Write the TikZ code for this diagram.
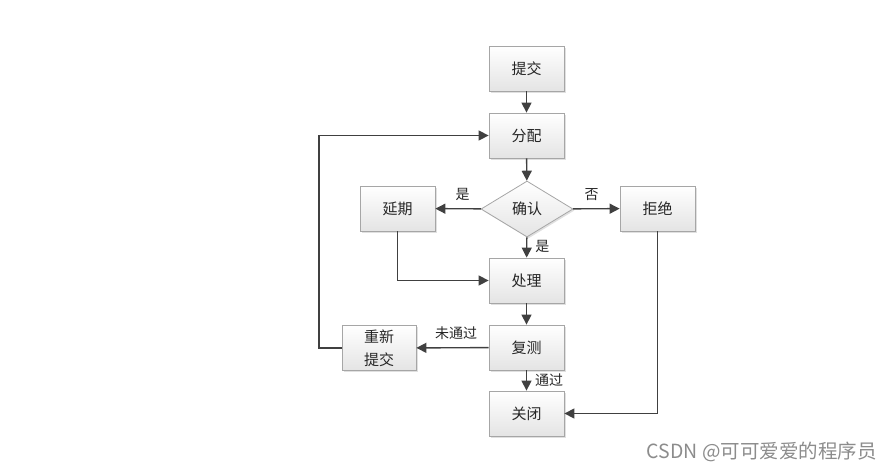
\documentclass[tikz,border=0pt]{standalone}
\usepackage{fontspec}
\newfontfamily\cjk{Noto Sans CJK SC}
\usetikzlibrary{arrows.meta,shapes.geometric,shadows}
\definecolor{linec}{HTML}{404040}
\definecolor{borderc}{HTML}{A6A6A6}
\definecolor{botc}{HTML}{E4E4E4}
\begin{document}
\begin{tikzpicture}[x=1pt,y=-1pt,
  box/.style={draw=borderc,line width=0.8pt,top color=white,bottom color=botc,
    minimum width=75pt,minimum height=45pt,inner sep=0pt,font=\cjk\fontsize{15}{18}\selectfont,
    text=black!85,drop shadow={shadow xshift=1.5pt,shadow yshift=-1.5pt,fill=black,opacity=0.12}},
  dia/.style={box,diamond,aspect=1.64,minimum width=92pt,minimum height=56pt,inner sep=0pt},
  conn/.style={draw=linec,line width=1.4pt,-{Triangle[length=10pt,width=10pt]}},
  lab/.style={font=\cjk\fontsize{14}{16}\selectfont,text=black!85,inner sep=0pt}]
\useasboundingbox (0,0) rectangle (893,472);
\node[box] (tj) at (526.5,68.5) {提交};
\node[dia] (qr) at (527,209) {确认};
\node[box] (fp) at (526.5,135.5) {分配};
\node[box] (yq) at (397.5,208.5) {延期};
\node[box] (jj) at (657.5,208.5) {拒绝};
\node[box] (cl) at (526.5,280.5) {处理};
\node[box] (fc) at (526.5,347.5) {复测};
\node[box,minimum width=74pt,align=center,font=\cjk\fontsize{15}{23}\selectfont] (cx) at (379,348) {重新\\提交};
\node[box] (gb) at (526.5,413.5) {关闭};
\coordinate (c1) at (319,348);
\coordinate (c2) at (319,135.5);
\coordinate (c3) at (397.5,280.5);
\coordinate (c4) at (657.5,413.5);
\draw[conn] (tj) -- (fp);
\draw[conn] (fp) -- (qr);
\draw[conn] (qr) -- node[lab,above=7pt,pos=0.4]{是} (yq);
\draw[conn] (qr) -- node[lab,above=7pt,pos=0.4]{否} (jj);
\draw[conn] (qr) -- node[lab,right=8pt,pos=0.45]{是} (cl);
\draw[conn] (yq) -- (c3) -- (cl);
\draw[conn] (jj) -- (c4) -- (gb);
\draw[conn] (cl) -- (fc);
\draw[conn] (fc) -- node[lab,above=7pt,pos=0.45]{未通过} (cx);
\draw[conn] (fc) -- node[lab,right=8pt,pos=0.5]{通过} (gb);
\draw[conn] (cx) -- (c1) -- (c2) -- (fp);
\node[font=\cjk\fontsize{19.5}{22}\selectfont,text=black!45,anchor=east,inner sep=0pt] (wm) at (877,452) {CSDN @可可爱爱的程序员};
\end{tikzpicture}
\end{document}
